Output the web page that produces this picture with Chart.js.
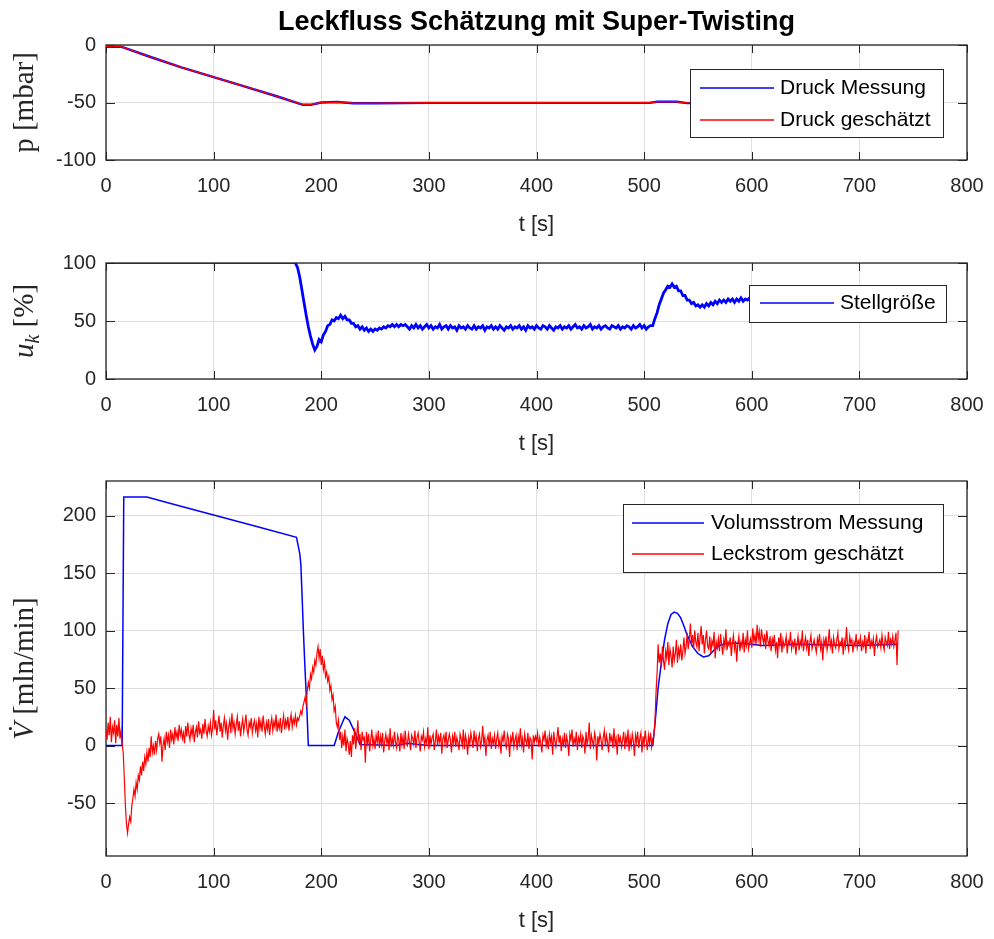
<!DOCTYPE html>
<html>
<head>
<meta charset="utf-8">
<script src="https://cdn.jsdelivr.net/npm/chart.js@4.4.1/dist/chart.umd.min.js"></script>
<style>
  body { margin: 0; background: #fff; }
  #wrap { position: relative; width: 994px; height: 939px; }
  canvas { position: absolute; left: 0; }
</style>
</head>
<body>
<div id="wrap">
  <canvas id="c1" width="994" height="245" style="top:0px"></canvas>
  <canvas id="c2" width="994" height="215" style="top:245px"></canvas>
  <canvas id="c3" width="994" height="479" style="top:460px"></canvas>
</div>
<script>
// Druck (oberes Diagramm)
var pZeit = [0, 14, 16, 40, 70, 100, 130, 160, 183, 190, 200, 215, 230, 250, 300, 505, 512, 530, 540, 736];
var pMessung = [-1.5, -1.5, -2, -10, -19.5, -28, -36.5, -45, -52, -52, -50, -49.6, -50.6, -50.6, -50.3, -50.3, -49.3, -49.3, -50.5, -50.3];
var pGeschaetzt = [-1.2, -1.2, -2, -10, -19.5, -28, -36.5, -45, -51.8, -51.8, -50, -49.7, -50.5, -50.5, -50.2, -50.2, -49.4, -49.4, -50.4, -50.2];

// Stellgröße (mittleres Diagramm)
var ukZeitAnfang = [0, 176];
var ukAnfang = [100, 100];
var ukStart = 178;   // ab hier Messwerte alle 2 s
var ukWerte = [
  96, 88, 77, 66, 55, 45, 37, 30, 25, 28,
  34, 32, 38, 41, 46, 47, 51, 50, 53, 52,
  55, 52, 54, 51, 51, 48, 48, 45, 46, 43,
  45, 42, 44, 41, 43, 41, 43, 42, 44, 43,
  45, 44, 46, 45, 47, 45, 47, 45, 47, 46,
  47, 45,
  43, 46, 44, 47, 44, 46, 43, 45, 47, 44,
  46, 43, 45, 44, 47, 43, 45, 46, 43, 46,
  44, 45, 42, 46, 44, 45, 43, 46, 44, 43,
  46, 43, 45, 44, 46, 42, 45, 44, 46, 43,
  45, 43, 46, 44, 42, 45, 44, 46, 43, 45,
  44, 46, 43, 45, 42, 46, 44, 45, 43, 46,
  44, 43, 46, 45, 43, 46, 44, 42, 45, 44,
  46, 43, 45, 44, 46, 43, 45, 47, 44, 45,
  43, 46, 44, 45, 47, 43, 45, 44, 46, 43,
  45, 46, 44, 43, 46, 45, 44, 46, 43, 45,
  44, 46, 45, 43, 46, 44, 45, 47, 44, 46,
  43, 45, 46,
  46, 52, 57, 64, 69, 74, 77, 80, 79, 82,
  79, 80, 76, 76, 72, 72, 68, 68, 65, 66,
  63, 64, 62, 64, 62, 65, 63, 66, 64, 67,
  65, 68, 66, 68, 66, 69, 67, 69, 66, 69,
  67, 70, 67, 69, 68, 70, 67, 69, 67, 70,
  68, 66, 69, 67, 70, 67, 68, 66, 69, 67,
  70, 68, 66, 69, 67, 68, 70, 67, 69, 66,
  68, 70, 67, 69, 67, 68, 66, 69, 68, 70,
  67, 69, 66, 68, 70, 67, 69, 67, 68, 66,
  69, 68, 70, 67, 69, 66, 68, 70, 67, 69,
  67, 68, 66, 69, 68, 70, 67, 69, 66, 68,
  70, 67, 69, 67, 68
];

// Volumsstrom (unteres Diagramm)
var vZeit = [0, 15, 16.5, 38, 60, 100, 140, 177, 180, 181, 182, 183.5, 185, 186.5, 188, 212, 216, 222, 226, 232, 236, 270, 280, 290, 300, 508, 510, 513, 516, 519, 522, 525, 528, 531, 534, 537, 540, 545, 550, 555, 560, 565, 570, 577, 590, 610, 640, 700, 736];
var vMessung = [0, 0, 216, 216, 210.5, 200.5, 190.5, 181, 167, 158, 135, 97, 65, 35, 0, 0, 12, 25, 22, 10, 1, 0, 2, 1, 0, 0, 18, 50, 72, 92, 106, 114, 116, 115, 111, 104, 96, 86, 80, 77, 78, 83, 87, 89, 89, 87, 88, 87, 88];
var leckDt = 1;      // Leckstrom jede Sekunde ab t = 0
var leckWerte = [
  14, 5, 20, 9, 25, 3, 16, 11, 22, 2, 18, 8, 24, 6, 13, 1,
  -6, -28, -52, -68, -76,
  -68, -62, -66, -52, -46, -38, -44, -32, -38, -26,
  -30, -18, -26, -14, -22, -10, -16, -6, -14, -2,
  -10, 8, -6, 0, -8, 4, -4, 6,
  10, 2, 8, -14, 0, 6, -4, 12, 3, 9,
  -2, 14, 5, 10, 1, 16, 7, 12, 4, 18,
  9, 14, 6, 11, 2, 17, 8, 20, 10, 5,
  15, 9, 18, 3, 12, 16, 7, 21, 11, 14,
  6, 19, 10, 23, 13, 8, 17, 12, 20, 9,
  15,
  31, 14, 22, 9, 18, 26, 12, 20, 7, 17, 24, 13, 19, 5, 16, 22, 11, 28, 15, 20,
  10, 18, 25, 13, 21, 8, 17, 23, 12, 19, 27, 14, 9, 20, 16, 24, 11, 18, 22, 13,
  19, 7, 25, 15, 21, 12, 26, 17, 10, 20, 14, 23, 9, 18, 24, 13, 21, 16, 27, 12,
  20, 15, 24, 11, 19, 26, 14, 22, 17, 25, 13, 21, 27, 16, 23, 19, 26, 18, 24, 22,
  26, 30, 27, 34, 38, 42, 36, 48, 55, 50,
  62, 58, 68, 64, 74, 70, 80, 86, 76, 84,
  70, 78, 66, 72, 60, 64, 56, 60, 48, 52,
  40, 44, 30, 34, 20, 16, 22,
  5, 12, -2, 8, 0, 14, -5, 6, 2, -8,
  4, -10, 9, 1, 15, -3, 7, 22, 3, 10,
  -4, 12, 5,
  7, -15, 12, 2, 10, -5, 5, 14, 0, 6, -3, 9, 3, 13, -2, 8, 1, 11, -6, 4,
  10, 2, 7, -4, 15, -1, 6, 0, 12, 3, -2, 9, 5, -5, 11, 1, 8, -3, 13, 2,
  0, 10, 4, -4, 9, 6, 1, 13, -2, 7, 11, 3, -5, 8, 5, 12, -1, 6, 2, 16,
  -3, 9, 1, 7, 10, -4, 4, 14, 0, 8, 3, 11, -7, 6, 9, 1, 12, -2, 5, 10,
  5, -6, 8, 2, 12, -1, 7, 3, -4, 10, 6, 0, 14, -3, 9, 4, -8, 7, 1, 11,
  5, -2, 13, 3, 8, -5, 6, 10, -1, 4, 17, 2, 7, -9, 5, 9, 0, 12, -3, 6,
  2, 9, -3, 6, 11, 0, 5, -7, 8, 4, 13, 1, -2, 10, 6, -10, 7, 3, 12, -1,
  5, 9, -4, 8, 2, 15, 0, 6, -6, 10, 4, 1, 11, -3, 7, 5, -12, 9, 3, 8,
  4, 11, -1, 7, 2, -6, 9, 5, 13, 0, 6, -3, 10, 3, 8, -8, 12, 4, -1, 7,
  16, 2, 9, -5, 6, 1, 11, -2, 8, 3, -9, 10, 5, 14, -1, 6, 2, 12, -4, 7,
  3, 10, -2, 8, 5, -7, 12, 1, 6, 20, -3, 9, 4, -1, 11, 6, -13, 8, 2, 10,
  5, -4, 7, 13, 0, 9, 3, -6, 11, 4, 8, -2, 15, 1, 6, -8, 10, 3, 7, -1,
  5, 12, -3, 8, 2, 14, -5, 7, 0, 10, 4, -9, 9, 3, 12, -2, 6, 11, -6, 8,
  1, 13, 4, -4, 9, 2, 11, -1, 6,
  8, 20, 45, 62, 88, 72, 80, 68, 86, 74,
  66, 82, 76, 90, 70, 84, 78, 68, 86, 74,
  80, 92, 72, 84, 78, 88, 74, 82, 94, 80,
  86, 98, 84, 92, 106, 88, 96, 84, 100, 90,
  86, 98, 82, 94, 104, 88, 96, 80, 92, 100,
  86,
  84, 95, 80, 91, 87, 99, 76, 90, 85, 93, 82, 97, 88, 79, 92, 86, 101, 83, 90, 87,
  94, 78, 89, 96, 84, 91, 73, 88, 95, 82, 90, 86, 98, 81, 92, 87, 100, 84, 89, 93,
  85, 102, 90, 96, 88, 105, 92, 99, 86, 101, 94, 89, 97, 84, 100, 91, 87, 95, 82, 93,
  88, 96, 83, 90, 76, 94, 87, 98, 81, 92, 86, 89, 95, 80, 91, 88, 99, 84, 90, 86,
  93, 79, 88, 95, 83, 91, 87, 100, 82, 89, 94, 85, 92, 78, 90, 96, 84, 88, 92, 86,
  81, 93, 88, 97, 84, 90, 74, 92, 87, 95, 83, 89, 101, 86, 91, 80, 94, 88, 85, 92,
  98, 84, 90, 87, 94, 79, 91, 86, 103, 88, 83, 95, 89, 92, 81, 90, 87, 97, 85, 91,
  88, 94, 82, 90, 86, 96, 80, 92, 89, 99, 84, 91, 87, 93, 78, 90, 95, 86, 89, 92,
  85, 96, 88, 83, 94, 90, 87, 99, 84, 92, 88, 95, 86, 91, 98, 70, 100
];

var xTicks = [0, 100, 200, 300, 400, 500, 600, 700, 800];

var achsenFarbe = "#262626";
var gitterFarbe = "#dfdfdf";
var blau = "#0000ff";
var rot = "#ff0000";
var sans = '"Liberation Sans", Arial, Helvetica, sans-serif';
var serif = '"Liberation Serif", "DejaVu Serif", serif';

function punkte(t, v) {
  return t.map(function (x, i) { return { x: x, y: v[i] }; });
}
function reihe(start, dt, v) {
  return v.map(function (y, i) { return { x: start + i * dt, y: y }; });
}

// MATLAB-artiger Rahmen mit Ticks nach innen
var rahmenPlugin = {
  id: "rahmen",
  beforeDatasetsDraw: function (chart) {
    var ctx = chart.ctx, a = chart.chartArea, x = chart.scales.x, y = chart.scales.y;
    ctx.save();
    ctx.strokeStyle = achsenFarbe;
    ctx.lineWidth = 1;
    ctx.beginPath();
    x.ticks.forEach(function (t) {
      var px = Math.round(x.getPixelForValue(t.value)) + 0.5;
      ctx.moveTo(px, a.bottom); ctx.lineTo(px, a.bottom - 8);
      ctx.moveTo(px, a.top); ctx.lineTo(px, a.top + 8);
    });
    y.ticks.forEach(function (t) {
      var py = Math.round(y.getPixelForValue(t.value)) + 0.5;
      ctx.moveTo(a.left, py); ctx.lineTo(a.left + 9, py);
      ctx.moveTo(a.right, py); ctx.lineTo(a.right - 9, py);
    });
    ctx.stroke();
    ctx.lineWidth = 1.3;
    ctx.strokeRect(a.left, a.top, a.right - a.left, a.bottom - a.top);
    ctx.restore();
  }
};

// y-Beschriftung im LaTeX-Stil
var yTitelPlugin = {
  id: "yTitel",
  afterDraw: function (chart, args, o) {
    if (!o.teile) return;
    var ctx = chart.ctx, a = chart.chartArea;
    ctx.save();
    var breite = 0;
    o.teile.forEach(function (p) { ctx.font = p.font; p.w = ctx.measureText(p.text).width; breite += p.w; });
    ctx.translate(o.x, (a.top + a.bottom) / 2);
    ctx.rotate(-Math.PI / 2);
    ctx.fillStyle = achsenFarbe;
    ctx.textBaseline = "alphabetic";
    var pos = -breite / 2;
    o.teile.forEach(function (p) {
      ctx.font = p.font;
      ctx.fillText(p.text, pos, o.basis + (p.dy || 0));
      pos += p.w;
    });
    ctx.restore();
  }
};

// Legende mit weissem Kasten im Diagramm
var legendePlugin = {
  id: "kasten",
  afterDraw: function (chart, args, o) {
    if (!o.box) return;
    var ctx = chart.ctx, b = o.box;
    ctx.save();
    ctx.fillStyle = "#fff";
    ctx.fillRect(b[0], b[1], b[2], b[3]);
    ctx.strokeStyle = achsenFarbe;
    ctx.lineWidth = 1;
    ctx.strokeRect(b[0] + 0.5, b[1] + 0.5, b[2], b[3]);
    chart.data.datasets.forEach(function (ds, i) {
      var yy = o.zeilen[i];
      ctx.strokeStyle = ds.borderColor;
      ctx.lineWidth = 1.5;
      ctx.beginPath();
      ctx.moveTo(o.linie[0], yy);
      ctx.lineTo(o.linie[1], yy);
      ctx.stroke();
      ctx.fillStyle = "#000";
      ctx.font = "21px " + sans;
      ctx.textBaseline = "middle";
      ctx.fillText(ds.label, o.textX, yy);
    });
    ctx.restore();
  }
};

var titelPlugin = {
  id: "titel",
  afterDraw: function (chart, args, o) {
    if (!o.text) return;
    var ctx = chart.ctx, a = chart.chartArea;
    ctx.save();
    ctx.fillStyle = "#000";
    ctx.font = "bold 27px " + sans;
    ctx.textAlign = "center";
    ctx.textBaseline = "middle";
    ctx.fillText(o.text, (a.left + a.right) / 2, o.y);
    ctx.restore();
  }
};

function achsen(yMin, yMax, yStep, hoehe, unten) {
  return {
    x: {
      type: "linear", min: 0, max: 800,
      afterBuildTicks: function (s) { s.ticks = xTicks.map(function (v) { return { value: v }; }); },
      ticks: { padding: 0, color: achsenFarbe, font: { family: sans, size: 20 } },
      grid: { color: gitterFarbe, drawTicks: true, tickLength: 14, tickColor: "rgba(0,0,0,0)" },
      border: { display: false },
      title: { display: true, text: "t [s]", color: achsenFarbe, font: { family: sans, size: 22 },
               padding: { top: 0, bottom: hoehe - unten - 65 - 13 } },
      afterFit: function (s) { s.height = hoehe - unten; }
    },
    y: {
      type: "linear", min: yMin, max: yMax,
      ticks: { stepSize: yStep, includeBounds: false, padding: 0, color: achsenFarbe, font: { family: sans, size: 20 } },
      grid: { color: gitterFarbe, drawTicks: true, tickLength: 10, tickColor: "rgba(0,0,0,0)" },
      border: { display: false },
      afterFit: function (s) { s.width = 106; }
    }
  };
}

function linie(label, daten, farbe, breite, reihenfolge) {
  return { label: label, data: daten, borderColor: farbe, backgroundColor: farbe,
           borderWidth: breite, pointRadius: 0, tension: 0, order: reihenfolge };
}

var plugins = [rahmenPlugin, yTitelPlugin, legendePlugin, titelPlugin];

new Chart(document.getElementById("c1"), {
  type: "line",
  data: {
    datasets: [
      linie("Druck Messung", punkte(pZeit, pMessung), blau, 2.4, 2),
      linie("Druck geschätzt", punkte(pZeit, pGeschaetzt), rot, 1.3, 1)
    ]
  },
  options: {
    responsive: false, animation: false, events: [],
    layout: { padding: { top: 45, right: 27, left: 0, bottom: 0 } },
    scales: achsen(-100, 0, 50, 245, 160),
    plugins: {
      legend: { display: false }, tooltip: { enabled: false },
      titel: { text: "Leckfluss Schätzung mit Super-Twisting", y: 23 },
      yTitel: { x: 24, basis: 9, teile: [{ text: "p [mbar]", font: "29px " + serif }] },
      kasten: { box: [690, 69, 253, 68], linie: [700, 774], textX: 780, zeilen: [88, 120] }
    }
  },
  plugins: plugins
});

var ukDaten = linie("Stellgröße", punkte(ukZeitAnfang, ukAnfang).concat(reihe(ukStart, 2, ukWerte)), blau, 1.5, 1);
ukDaten.segment = { borderWidth: function (c) { return c.p0.parsed.x < 176 ? 1.5 : 2.8; } };

new Chart(document.getElementById("c2"), {
  type: "line",
  data: { datasets: [ukDaten] },
  options: {
    responsive: false, animation: false, events: [],
    layout: { padding: { top: 18, right: 27, left: 0, bottom: 0 } },
    scales: achsen(0, 100, 50, 215, 134),
    plugins: {
      legend: { display: false }, tooltip: { enabled: false },
      yTitel: { x: 24, basis: 9, teile: [
        { text: "u", font: "italic 29px " + serif },
        { text: "k", font: "italic 20px " + serif, dy: 6 },
        { text: " [%]", font: "29px " + serif }
      ] },
      kasten: { box: [749, 40, 197, 37], linie: [760, 834], textX: 840, zeilen: [58] }
    }
  },
  plugins: plugins
});

new Chart(document.getElementById("c3"), {
  type: "line",
  data: {
    datasets: [
      linie("Volumsstrom Messung", punkte(vZeit, vMessung), blau, 1.5, 2),
      linie("Leckstrom geschätzt", reihe(0, leckDt, leckWerte), rot, 1.2, 1)
    ]
  },
  options: {
    responsive: false, animation: false, events: [],
    layout: { padding: { top: 21, right: 27, left: 0, bottom: 0 } },
    scales: achsen(-96, 230, 50, 479, 396),
    plugins: {
      legend: { display: false }, tooltip: { enabled: false },
      yTitel: { x: 24, basis: 9, teile: [
        { text: "V\u0307", font: "italic 29px " + serif },
        { text: " [mln/min]", font: "29px " + serif }
      ] },
      kasten: { box: [623, 44, 320, 68], linie: [632, 704], textX: 711, zeilen: [63, 94] }
    }
  },
  plugins: plugins
});
</script>
</body>
</html>
